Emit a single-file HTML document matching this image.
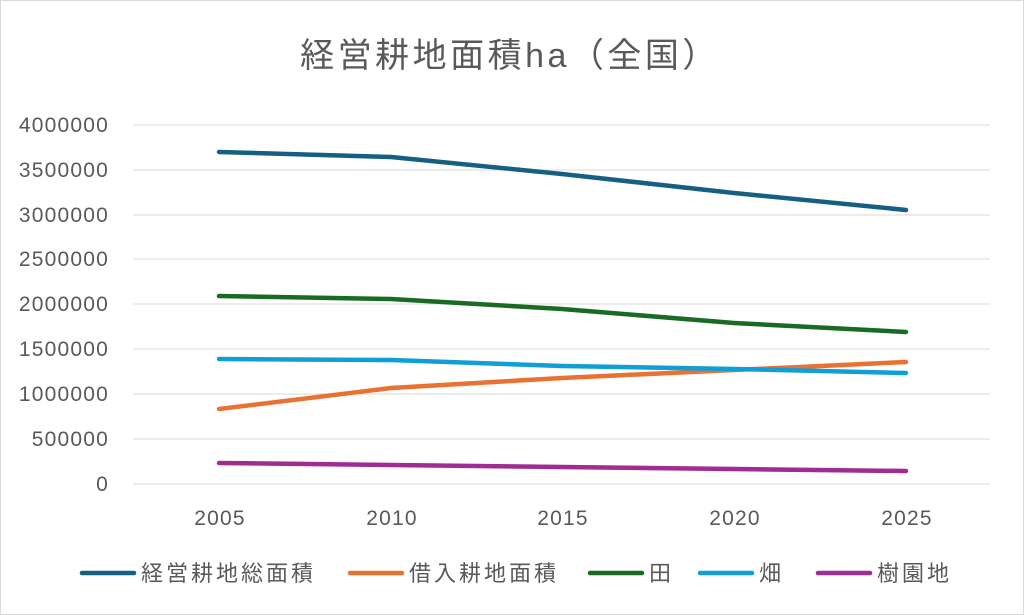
<!DOCTYPE html>
<html><head><meta charset="utf-8"><style>
body{margin:0;background:#fff}
svg{display:block}
text{font-family:"Liberation Sans","Noto Sans CJK JP",sans-serif;fill:#595959}
</style></head><body>
<svg width="1024" height="615" viewBox="0 0 1024 615">
<rect x="0.5" y="0.5" width="1023" height="614" fill="#fff" stroke="#d9d9d9"/>
<text x="510" y="67" font-size="34" letter-spacing="3.5" text-anchor="middle">経営耕地面積ha（全国）</text>
<g stroke="#d9d9d9" stroke-width="1">
<line x1="133" x2="990" y1="125" y2="125"/><line x1="133" x2="990" y1="170" y2="170"/>
<line x1="133" x2="990" y1="215" y2="215"/><line x1="133" x2="990" y1="259" y2="259"/>
<line x1="133" x2="990" y1="304" y2="304"/><line x1="133" x2="990" y1="349" y2="349"/>
<line x1="133" x2="990" y1="394" y2="394"/><line x1="133" x2="990" y1="439" y2="439"/>
<line x1="133" x2="990" y1="484" y2="484"/>
</g>
<g font-size="21" letter-spacing="1.2" text-anchor="end">
<text x="109" y="132">4000000</text><text x="109" y="177">3500000</text>
<text x="109" y="222">3000000</text><text x="109" y="266">2500000</text>
<text x="109" y="311">2000000</text><text x="109" y="356">1500000</text>
<text x="109" y="401">1000000</text><text x="109" y="446">500000</text>
<text x="109" y="491">0</text>
</g>
<g font-size="21" letter-spacing="1.2" text-anchor="middle">
<text x="220" y="525">2005</text><text x="392" y="525">2010</text>
<text x="563" y="525">2015</text><text x="735" y="525">2020</text>
<text x="907" y="525">2025</text>
</g>
<g fill="none" stroke-width="4.5" stroke-linecap="round" stroke-linejoin="round">
<polyline stroke="#156082" points="219,152 391,157 562,174 734,193 906,210"/>
<polyline stroke="#E97132" points="219,409 391,388 562,378 734,370 906,362"/>
<polyline stroke="#196B24" points="219,296 391,299 562,309 734,323 906,332"/>
<polyline stroke="#0F9ED5" points="219,359 391,360 562,366 734,369 906,373"/>
<polyline stroke="#A02B93" points="219,463 391,465 562,467 734,469 906,471"/>
</g>
<g stroke-width="4.5" stroke-linecap="round">
<line x1="82" x2="134" y1="573" y2="573" stroke="#156082"/>
<line x1="350" x2="402" y1="573" y2="573" stroke="#E97132"/>
<line x1="590" x2="642" y1="573" y2="573" stroke="#196B24"/>
<line x1="700" x2="752" y1="573" y2="573" stroke="#0F9ED5"/>
<line x1="818" x2="870" y1="573" y2="573" stroke="#A02B93"/>
</g>
<g font-size="22" letter-spacing="3">
<text x="141" y="581">経営耕地総面積</text>
<text x="409" y="581">借入耕地面積</text>
<text x="649" y="581">田</text>
<text x="759" y="581">畑</text>
<text x="877" y="581">樹園地</text>
</g>
</svg>
</body></html>
